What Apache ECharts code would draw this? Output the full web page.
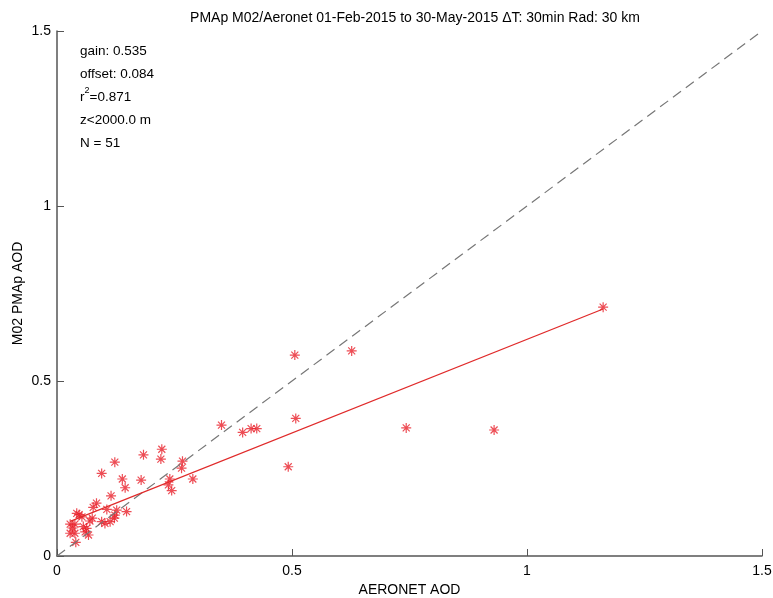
<!DOCTYPE html>
<html><head><meta charset="utf-8">
<script src="https://cdn.jsdelivr.net/npm/echarts@6/dist/echarts.min.js"></script>
<style>html,body{margin:0;padding:0;background:#fff}#c{width:773px;height:598px}</style>
</head><body><div id="c"></div>
<script>
const titleText = 'PMAp M02/Aeronet 01-Feb-2015 to 30-May-2015 \u0394T: 30min Rad: 30 km';
const xTicks = [0, 0.5, 1, 1.5];
const yTicks = [0, 0.5, 1, 1.5];
const aeronetAOD = [1.162,0.627,0.506,0.743,0.930,0.508,0.350,0.395,0.413,0.425,0.492,
  0.223,0.221,0.184,0.123,0.095,0.267,0.265,0.289,0.240,0.237,0.244,0.179,0.139,0.145,
  0.115,0.084,0.077,0.042,0.053,0.106,0.127,0.148,0.123,0.122,0.075,0.095,0.102,0.113,
  0.028,0.038,0.056,0.063,0.060,0.028,0.038,0.067,0.040,0.047,0.070,0.033];
const pmapAOD = [0.711,0.586,0.574,0.366,0.360,0.393,0.374,0.353,0.364,0.364,0.255,
  0.305,0.277,0.289,0.268,0.236,0.271,0.251,0.220,0.220,0.203,0.187,0.217,0.220,0.195,
  0.172,0.151,0.139,0.122,0.112,0.133,0.131,0.127,0.117,0.108,0.108,0.098,0.093,0.098,
  0.091,0.091,0.084,0.079,0.069,0.065,0.065,0.060,0.039,0.118,0.100,0.080];
const gain = 0.535, offset = 0.084;
const statsLines = ['gain: 0.535','offset: 0.084','r{s|2}=0.871','z<2000.0 m','N = 51'];

const pts = aeronetAOD.map((x,i)=>[x,pmapAOD[i]]);
const xmin = Math.min(...aeronetAOD), xmax = Math.max(...aeronetAOD);
const fitLine = [[xmin, gain*xmin+offset],[xmax, gain*xmax+offset]];
const oneToOne = [[0,0],[1.5,1.5]];
const font = 'Liberation Sans, Arial, sans-serif';
const chart = echarts.init(document.getElementById('c'));
chart.setOption({
  animation:false,
  backgroundColor:'#fff',
  title:{text:titleText,left:410,top:6,textAlign:'center',
    textStyle:{fontFamily:font,fontSize:14,fontWeight:'normal',color:'#000'}},
  grid:{left:57,right:11,top:31,bottom:42,containLabel:false,outerBoundsMode:'none'},
  xAxis:{type:'value',min:0,max:1.5,interval:0.5,
    name:'AERONET AOD',nameLocation:'middle',nameGap:27,nameMoveOverlap:false,
    nameTextStyle:{fontFamily:font,fontSize:14,color:'#000'},
    axisLine:{lineStyle:{color:'#555',width:1.5}},
    axisTick:{inside:true,length:7,lineStyle:{color:'#555'}},
    axisLabel:{fontFamily:font,fontSize:14,color:'#000',margin:8},
    splitLine:{show:false}},
  yAxis:{type:'value',min:0,max:1.5,interval:0.5,
    name:'M02 PMAp AOD',nameLocation:'middle',nameGap:32,nameMoveOverlap:false,
    nameTextStyle:{fontFamily:font,fontSize:14,color:'#000'},
    axisLine:{lineStyle:{color:'#555',width:1.5}},
    axisTick:{inside:true,length:7,lineStyle:{color:'#555'}},
    axisLabel:{fontFamily:font,fontSize:14,color:'#000',margin:6},
    splitLine:{show:false}},
  graphic:[{type:'text',left:80,top:40,style:{
    text:statsLines.join('\n'),fontFamily:font,fontSize:13.5,fill:'#000',lineHeight:23,
    rich:{s:{fontSize:9,verticalAlign:'top',padding:[0,0,8,0],fontFamily:font,fill:'#000'}}}}],
  series:[
    {type:'line',data:oneToOne,symbol:'none',silent:true,
      lineStyle:{color:'#777',width:1.2,type:[10,6]}},
    {type:'line',data:fitLine,symbol:'none',silent:true,
      lineStyle:{color:'#e02a2a',width:1.3}},
    {type:'scatter',data:pts,symbolSize:10,
      symbol:'path://M0,5L10,5M5,0L5,10M1.5,1.5L8.5,8.5M8.5,1.5L1.5,8.5',
      itemStyle:{color:'rgba(0,0,0,0)',borderColor:'#e8202a',borderWidth:1.2}}
  ]
});
</script></body></html>
